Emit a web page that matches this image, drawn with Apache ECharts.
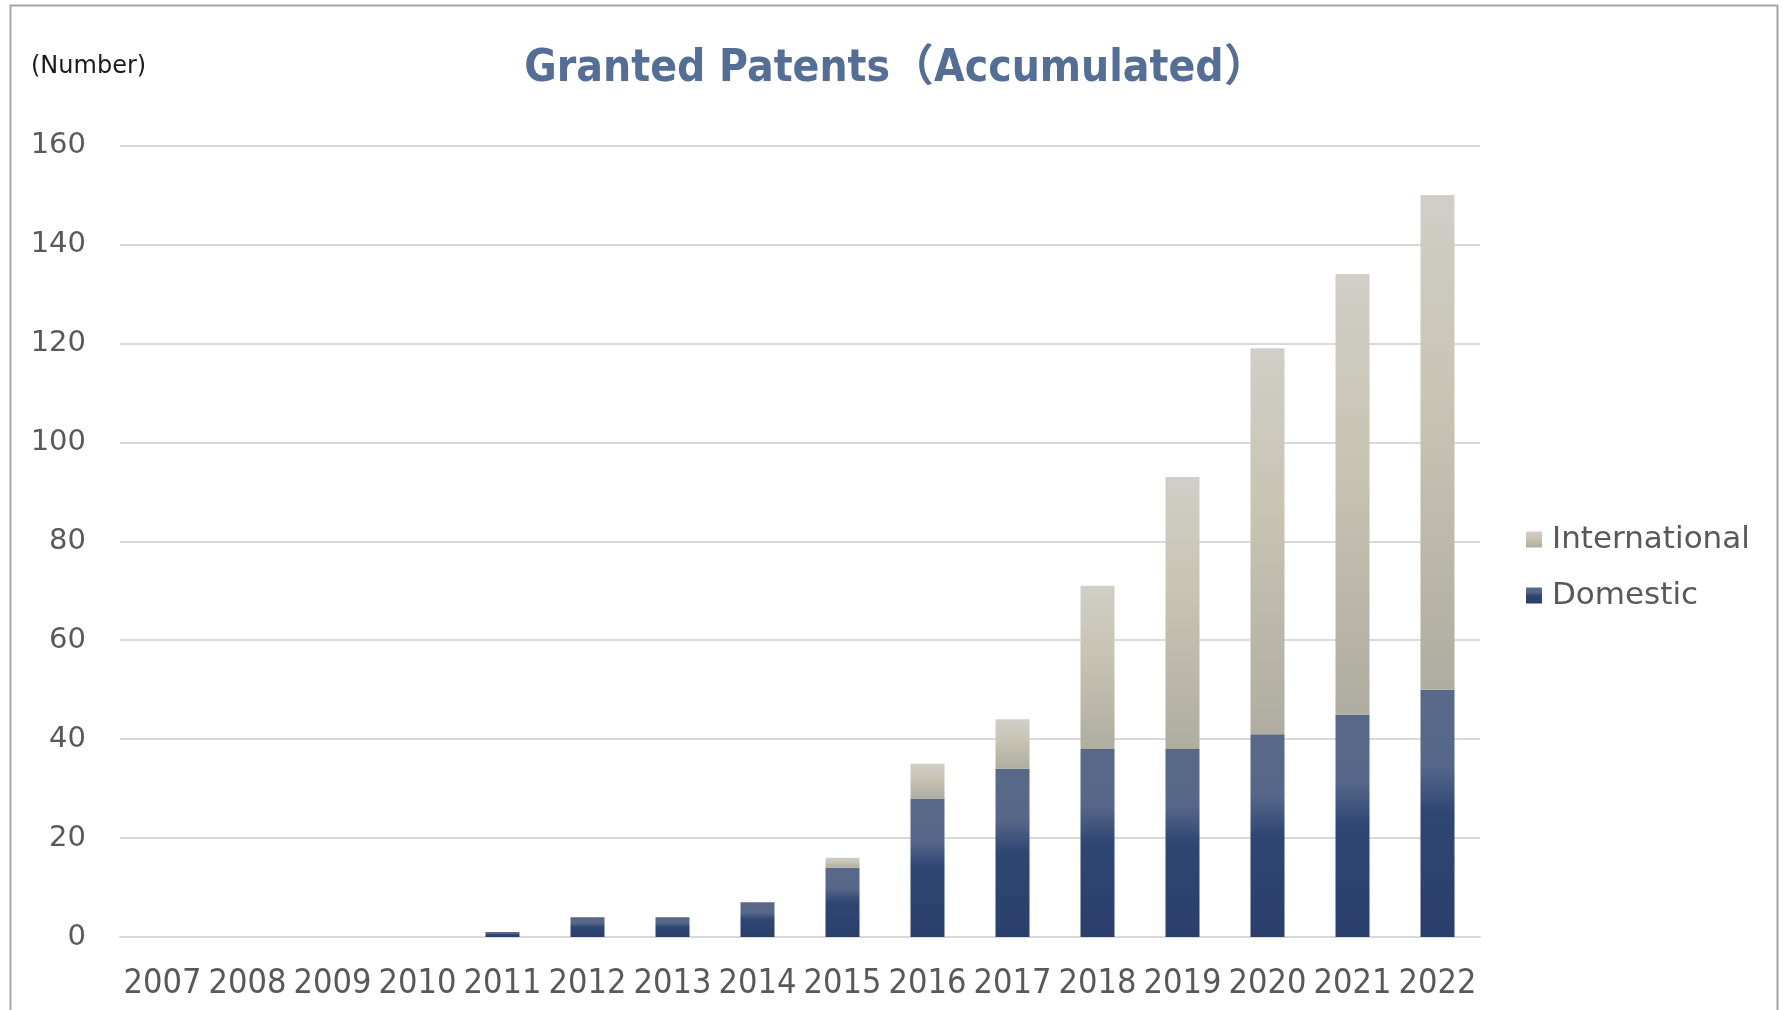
<!DOCTYPE html>
<html>
<head>
<meta charset="utf-8">
<script src="https://cdn.jsdelivr.net/npm/echarts@6/dist/echarts.min.js"></script>
<style>
  html, body { margin: 0; padding: 0; background: #fff; }
  #chart { width: 1783px; height: 1010px; }
</style>
</head>
<body>
<div id="chart"></div>
<script>
// Granted patents, accumulated totals by year
const years = ['2007','2008','2009','2010','2011','2012','2013','2014','2015','2016','2017','2018','2019','2020','2021','2022'];
const domestic = [0, 0, 0, 0, 1, 4, 4, 7, 14, 28, 34, 38, 38, 41, 45, 50];
const international = [0, 0, 0, 0, 0, 0, 0, 0, 2, 7, 10, 33, 55, 78, 89, 100];
const yTicks = { min: 0, max: 160, interval: 20 };

const chart = echarts.init(document.getElementById('chart'));

const domesticFill = new echarts.graphic.LinearGradient(0, 0, 0, 1, [
  { offset: 0, color: '#586988' },
  { offset: 0.3, color: '#566789' },
  { offset: 0.5, color: '#2F4673' },
  { offset: 1, color: '#2A3F6B' }
]);
const internationalFill = new echarts.graphic.LinearGradient(0, 0, 0, 1, [
  { offset: 0, color: '#D0CEC7' },
  { offset: 0.4, color: '#C8C5B4' },
  { offset: 1, color: '#AFADA1' }
]);

chart.setOption({
  animation: false,
  backgroundColor: '#ffffff',
  grid: { left: 120, right: 303, top: 145.5, bottom: 73, containLabel: false },
  graphic: [
    {
      type: 'rect',
      shape: { x: 10.5, y: 5.5, width: 1767, height: 1020 },
      style: { fill: 'none', stroke: '#A6A6A6', lineWidth: 2 },
      silent: true
    },
    {
      type: 'text',
      x: 896, y: 70,
      style: {
        text: 'Granted Patents（Accumulated）',
        font: 'bold 44px "DejaVu Sans Condensed", "Liberation Sans Narrow", "Noto Sans CJK JP", sans-serif',
        fill: '#546E96',
        align: 'center',
        verticalAlign: 'middle'
      }
    },
    {
      type: 'text',
      x: 31, y: 67,
      style: {
        text: '(Number)',
        font: '24px "DejaVu Sans", sans-serif',
        fill: '#1A1A1A',
        align: 'left',
        verticalAlign: 'middle'
      }
    }
  ],
  legend: {
    orient: 'vertical',
    left: 1526,
    top: 524,
    padding: 0,
    itemWidth: 16,
    itemHeight: 16,
    itemGap: 25,
    icon: 'rect',
    data: ['International', 'Domestic'],
    textStyle: {
      fontFamily: '"DejaVu Sans", sans-serif',
      fontSize: 31,
      color: '#595959',
      padding: [0, 0, 0, 5]
    }
  },
  xAxis: {
    type: 'category',
    data: years,
    axisLine: { lineStyle: { color: '#D9D9D9', width: 2 } },
    axisTick: { show: false },
    axisLabel: {
      margin: 30,
      interval: 0,
      color: '#595959',
      fontFamily: '"DejaVu Sans Condensed", "Liberation Sans Narrow", sans-serif',
      fontSize: 34
    }
  },
  yAxis: {
    type: 'value',
    min: yTicks.min,
    max: yTicks.max,
    interval: yTicks.interval,
    axisLine: { show: false },
    axisTick: { show: false },
    splitLine: { lineStyle: { color: '#D9D9D9', width: 2 } },
    axisLabel: {
      margin: 34,
      padding: [10, 0, 0, 0],
      color: '#595959',
      fontFamily: '"DejaVu Sans", sans-serif',
      fontSize: 29
    }
  },
  series: [
    {
      name: 'Domestic',
      type: 'bar',
      stack: 'total',
      barWidth: '40%',
      data: domestic,
      itemStyle: { color: domesticFill }
    },
    {
      name: 'International',
      type: 'bar',
      stack: 'total',
      barWidth: '40%',
      data: international,
      itemStyle: { color: internationalFill }
    }
  ]
});
</script>
</body>
</html>
